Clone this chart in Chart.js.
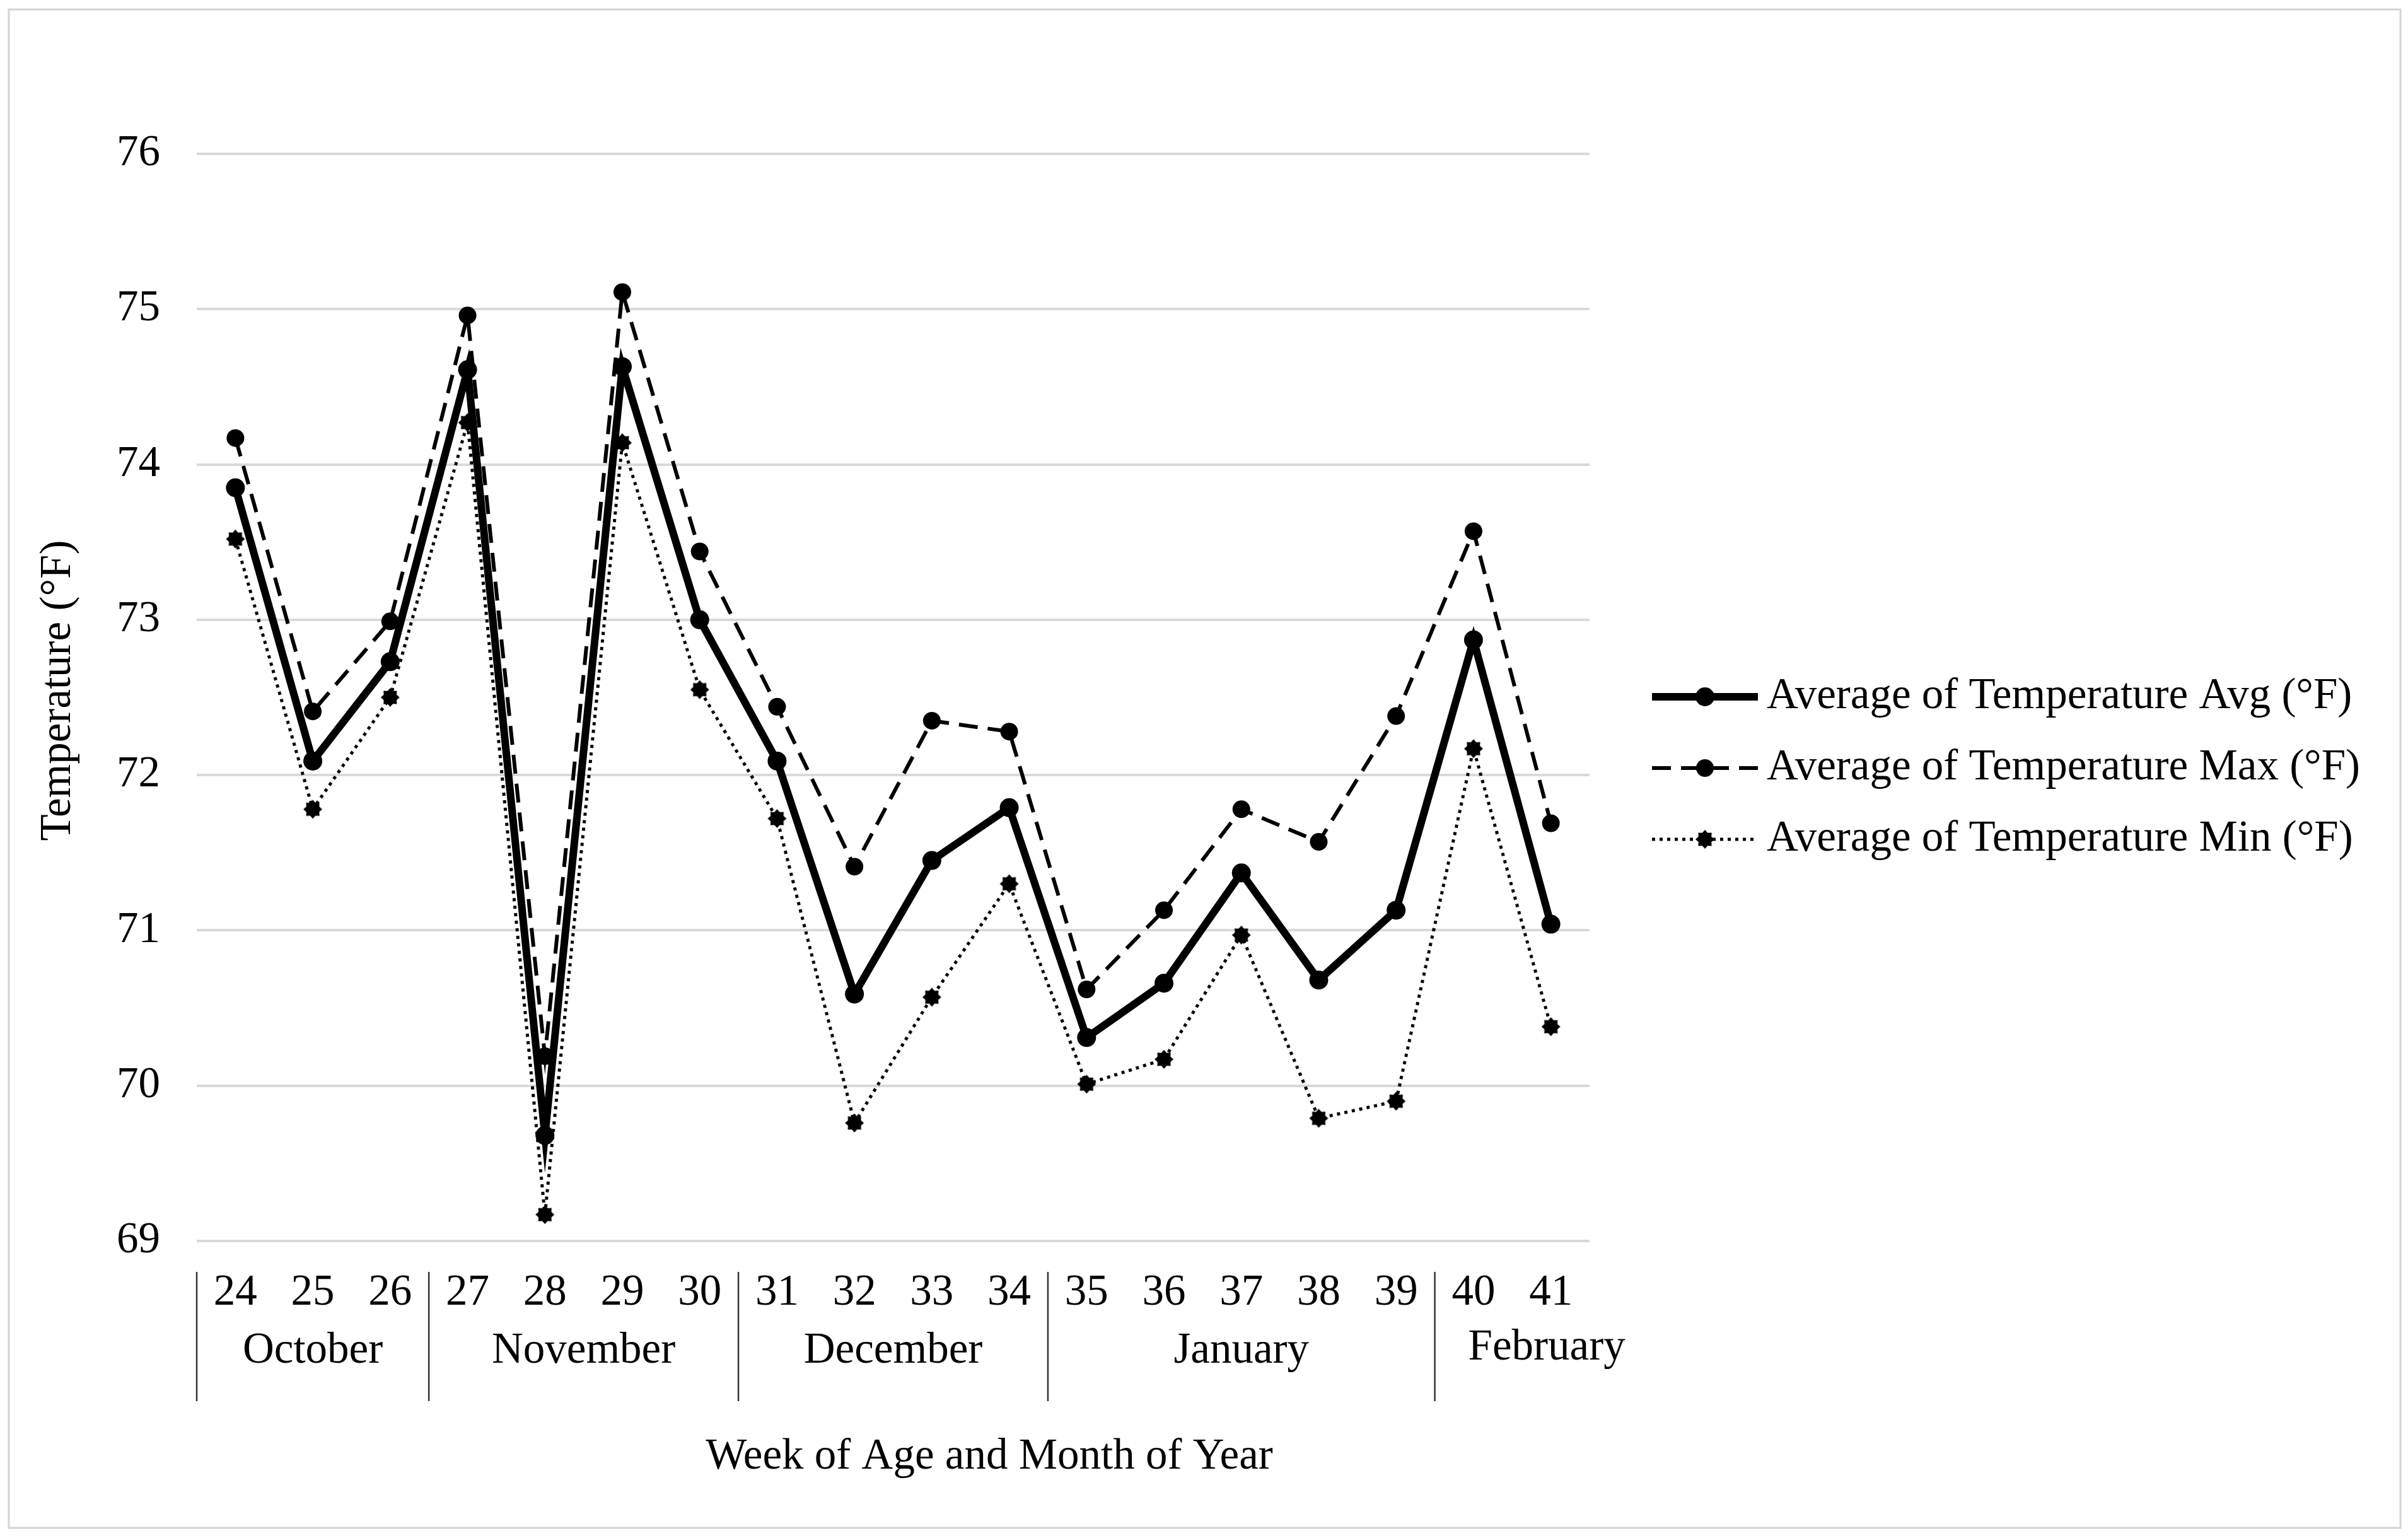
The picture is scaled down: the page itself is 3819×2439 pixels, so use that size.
<!DOCTYPE html>
<html>
<head>
<meta charset="utf-8">
<script src="https://cdn.jsdelivr.net/npm/chart.js@4.4.1/dist/chart.umd.min.js"></script>
<style>
  html, body { margin: 0; padding: 0; background: #fff; }
  #wrap { width: 3819px; height: 2439px; }
</style>
</head>
<body>
<div id="wrap"><canvas id="tempChart" width="3819" height="2439"></canvas></div>
<script>
// Chart data
const weeks = ['24', '25', '26', '27', '28', '29', '30', '31', '32', '33', '34', '35', '36', '37', '38', '39', '40', '41'];
const months = ['October', 'November', 'December', 'January', 'February'];
const monthWeekCounts = [3, 4, 4, 5, 2];
const tempAvg = [73.85, 72.09, 72.73, 74.61, 69.68, 74.63, 73.00, 72.09, 70.59, 71.45, 71.79, 70.31, 70.66, 71.37, 70.68, 71.13, 72.87, 71.04];
const tempMax = [74.17, 72.41, 72.99, 74.96, 70.19, 75.11, 73.44, 72.44, 71.41, 72.35, 72.28, 70.62, 71.13, 71.78, 71.57, 72.38, 73.57, 71.69];
const tempMin = [73.52, 71.78, 72.50, 74.27, 69.17, 74.14, 72.55, 71.72, 69.76, 70.57, 71.30, 70.01, 70.17, 70.97, 69.79, 69.90, 72.17, 70.38];
const seriesNames = ['Average of Temperature Avg (°F)', 'Average of Temperature Max (°F)', 'Average of Temperature Min (°F)'];

const FONT = '"Liberation Serif", "Times New Roman", serif';
const FONT_SIZE = 69;

// spiky marker for the Min series
function makeStar(r) {
    const c = document.createElement('canvas');
    const size = Math.ceil(r * 2 + 4);
    c.width = size; c.height = size;
    const g = c.getContext('2d');
    const cx = size / 2, cy = size / 2;
    g.beginPath();
    for (let i = 0; i < 16; i++) {
        const a = i * Math.PI / 8 - Math.PI / 2;
        const rr = i % 2 === 0 ? r : r * 0.74;
        const x = cx + rr * Math.cos(a), y = cy + rr * Math.sin(a);
        if (i === 0) g.moveTo(x, y); else g.lineTo(x, y);
    }
    g.closePath();
    g.fillStyle = '#000';
    g.fill();
    return c;
}
const starImg = makeStar(15);

const decor = {
    id: 'decor',
    beforeDraw(chart) {
        const ctx = chart.ctx;
        ctx.save();
        ctx.fillStyle = '#fff';
        ctx.fillRect(0, 0, chart.width, chart.height);
        ctx.strokeStyle = '#d4d4d4';
        ctx.lineWidth = 3;
        ctx.strokeRect(14, 15, 3793, 2408);
        ctx.restore();
    },
    afterDraw(chart) {
        const ctx = chart.ctx;
        const xs = chart.scales.x;
        const step = xs.getPixelForValue(1) - xs.getPixelForValue(0);
        ctx.save();
        ctx.fillStyle = '#000';
        ctx.font = FONT_SIZE + 'px ' + FONT;
        ctx.textBaseline = 'middle';

        // week numbers
        ctx.textAlign = 'center';
        weeks.forEach((w, i) => ctx.fillText(w, xs.getPixelForValue(i), 2051));

        // month groups and separators
        ctx.strokeStyle = '#333';
        ctx.lineWidth = 2.5;
        let start = 0;
        months.forEach((m, k) => {
            const end = start + monthWeekCounts[k] - 1;
            const left = xs.getPixelForValue(start) - step / 2;
            const right = xs.getPixelForValue(end) + step / 2;
            ctx.beginPath();
            ctx.moveTo(left, 2017);
            ctx.lineTo(left, 2222);
            ctx.stroke();
            const w = ctx.measureText(m).width;
            if (w > right - left) {
                ctx.textAlign = 'left';
                ctx.fillText(m, left + 53, 2138);
            } else {
                ctx.textAlign = 'center';
                ctx.fillText(m, (left + right) / 2, 2143);
            }
            start = end + 1;
        });

        // axis titles
        ctx.textAlign = 'center';
        ctx.fillText('Week of Age and Month of Year', 1569, 2311);
        ctx.save();
        ctx.translate(93, 1095);
        ctx.rotate(-Math.PI / 2);
        ctx.fillText('Temperature (°F)', 0, 0);
        ctx.restore();

        // legend
        chart.data.datasets.forEach((ds, i) => {
            const y = 1105 + i * 113;
            ctx.save();
            ctx.strokeStyle = '#000';
            ctx.lineWidth = ds.borderWidth;
            ctx.setLineDash(ds.borderDash || []);
            ctx.beginPath();
            ctx.moveTo(2620, y);
            ctx.lineTo(2788, y);
            ctx.stroke();
            ctx.setLineDash([]);
            if (ds.pointStyle === 'circle') {
                ctx.beginPath();
                ctx.arc(2704, y, ds.pointRadius, 0, Math.PI * 2);
                ctx.fillStyle = '#000';
                ctx.fill();
            } else {
                ctx.drawImage(starImg, 2704 - starImg.width / 2, y - starImg.height / 2);
            }
            ctx.restore();
            ctx.textAlign = 'left';
            ctx.fillText(ds.label, 2802, y);
        });
        ctx.restore();
    }
};

new Chart(document.getElementById('tempChart'), {
    type: 'line',
    data: {
        labels: weeks,
        datasets: [{
            label: seriesNames[0],
            data: tempAvg,
            borderColor: '#000',
            backgroundColor: '#000',
            borderWidth: 12,
            pointStyle: 'circle',
            pointRadius: 15,
            pointBorderWidth: 0
        }, {
            label: seriesNames[1],
            data: tempMax,
            borderColor: '#000',
            backgroundColor: '#000',
            borderWidth: 6,
            borderDash: [30, 16],
            pointStyle: 'circle',
            pointRadius: 14,
            pointBorderWidth: 0
        }, {
            label: seriesNames[2],
            data: tempMin,
            borderColor: '#000',
            backgroundColor: '#000',
            borderWidth: 5,
            borderDash: [5, 7],
            pointStyle: starImg,
            pointRadius: 15,
            pointBorderWidth: 0
        }]
    },
    options: {
        responsive: false,
        animation: false,
        devicePixelRatio: 1,
        layout: { padding: { left: 0, top: 244, right: 1298, bottom: 0 } },
        scales: {
            x: {
                offset: true,
                grid: { display: false },
                border: { display: false },
                ticks: { display: false },
                afterFit: (s) => { s.height = 471; }
            },
            y: {
                min: 69,
                max: 76,
                ticks: {
                    stepSize: 1,
                    padding: 58,
                    color: '#000',
                    font: { family: FONT, size: FONT_SIZE }
                },
                grid: { color: '#d9d9d9', lineWidth: 4, drawTicks: false },
                border: { display: false },
                afterFit: (s) => { s.width = 312; }
            }
        },
        plugins: {
            legend: { display: false },
            tooltip: { enabled: false }
        }
    },
    plugins: [decor]
});
</script>
</body>
</html>
